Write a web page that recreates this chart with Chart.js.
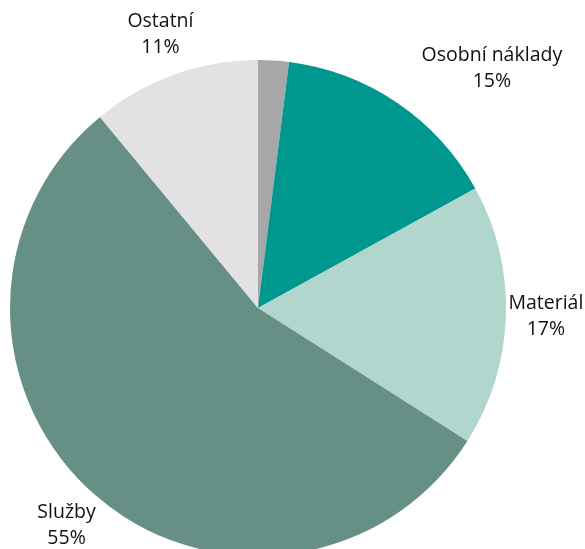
<!DOCTYPE html>
<html>
<head>
<meta charset="utf-8">
<script src="https://cdn.jsdelivr.net/npm/chart.js@4"></script>
<style>
html,body{margin:0;padding:0;background:#fff;overflow:hidden;}
#wrap{width:585px;height:549px;position:relative;overflow:hidden;}
</style>
</head>
<body>
<div id="wrap"><canvas id="c" width="585" height="556"></canvas></div>
<script>
const categories = ["", "Osobní náklady", "Materiál", "Služby", "Ostatní"];
const values = [2, 15, 17, 55, 11];
const percentLabels = ["", "15%", "17%", "55%", "11%"];
const colors = ["#a6a8a8", "#00978f", "#b0d6ce", "#668f85", "#e3e1e3"];

const labelPlugin = {
  id: 'outLabels',
  afterDatasetsDraw(chart) {
    const ctx = chart.ctx;
    const meta = chart.getDatasetMeta(0);
    const nudges = [[0,0],[72,-1],[0,-1],[-1,1],[0,-3]];
    ctx.save();
    ctx.font = '19.5px "Open Sans", "Noto Sans", sans-serif';
    ctx.fillStyle = '#111111';
    ctx.textAlign = 'center';
    ctx.textBaseline = 'middle';
    meta.data.forEach((arc, i) => {
      if (!categories[i]) return;
      const p = arc.getProps(['x','y','startAngle','endAngle','outerRadius'], true);
      const mid = (p.startAngle + p.endAngle) / 2;
      const d = p.outerRadius + 40;
      const x = p.x + Math.cos(mid) * d + nudges[i][0];
      const y = p.y + Math.sin(mid) * d + nudges[i][1];
      ctx.fillText(categories[i], x, y - 13);
      ctx.fillText(percentLabels[i], x, y + 13);
    });
    ctx.restore();
  }
};

new Chart(document.getElementById('c'), {
  type: 'pie',
  data: {
    labels: categories,
    datasets: [{
      data: values,
      backgroundColor: colors,
      borderWidth: 0,
      hoverOffset: 0,
      offset: 0
    }]
  },
  options: {
    responsive: false,
    animation: false,
    layout: { padding: { left: 10, right: 79, top: 60, bottom: 0 } },
    plugins: {
      legend: { display: false },
      tooltip: { enabled: false }
    }
  },
  plugins: [labelPlugin]
});
</script>
</body>
</html>
